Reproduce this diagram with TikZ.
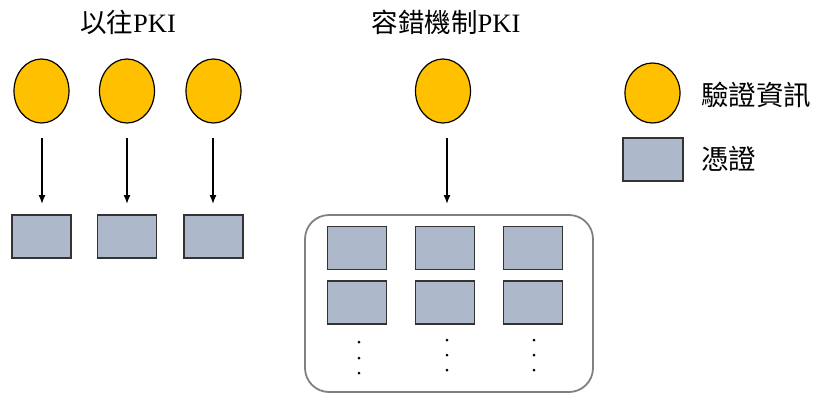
\documentclass[tikz,border=0pt]{standalone}
\usepackage{fontspec}
\setmainfont{Liberation Serif}
\newfontfamily\cjk{Noto Sans CJK TC}
\usetikzlibrary{arrows.meta,shapes.geometric}
\definecolor{infogold}{HTML}{FFC000}
\definecolor{certblue}{HTML}{ADB9CA}
\tikzset{
  info/.style={ellipse, draw=black, line width=1.2pt, fill=infogold,
    minimum width=55pt, minimum height=64pt, inner sep=0pt},
  cert/.style={rectangle, draw=black!80, line width=1.2pt, fill=certblue,
    minimum width=59pt, minimum height=43pt, inner sep=0pt},
  flow/.style={-{Latex[length=9pt,width=7pt]}, line width=1.4pt},
  title/.style={font=\fontsize{26.5}{30}\selectfont, inner sep=0pt},
  legendtext/.style={font=\cjk\fontsize{27.5}{30}\selectfont, anchor=west, inner sep=0pt},
  dot/.style={circle, fill=black, minimum size=3pt, inner sep=0pt}
}
\begin{document}
\begin{tikzpicture}[x=1pt, y=-1pt]
  \useasboundingbox (0,0) rectangle (817,394);

  % titles
  \node[title] (tleft) at (128,22) {{\cjk 以往}PKI};
  \node[title] (tright) at (446,22) {{\cjk 容錯機制}PKI};

  % conventional PKI: one certificate per item
  \foreach \i/\x in {1/41.5, 2/127, 3/213.5} {
    \node[info] (e\i) at (\x,91) {};
    \node[cert] (c\i) at (\x,236.5) {};
  }
  \foreach \i/\x in {1/42, 2/127, 3/213} {
    \coordinate (s\i) at (\x,138);
    \coordinate (t\i) at (\x,204);
    \draw[flow] (s\i) -- (t\i);
  }

  % fault-tolerant PKI: one item, many certificates
  \node[info] (er) at (443,91) {};
  \coordinate (sr) at (447,138);
  \coordinate (tr) at (447,204);
  \draw[flow] (sr) -- (tr);

  \draw[draw=black!50, line width=1.8pt, rounded corners=24pt]
    (305,215) rectangle (593,392);

  \foreach \j/\x in {1/357, 2/445, 3/533} {
    \node[cert] (ra\j) at (\x,248) {};
    \node[cert] (rb\j) at (\x,302.5) {};
  }
  \foreach \y in {342,358,373} \node[dot] at (359,\y) {};
  \foreach \y in {340,355,370} \node[dot] at (447,\y) {};
  \foreach \y in {340,355,370} \node[dot] at (534,\y) {};

  % legend
  \node[info, minimum height=60pt] (le) at (652.5,93) {};
  \node[legendtext] (lt1) at (701,95) {驗證資訊};
  \node[cert, minimum width=60pt] (lc) at (653,159.5) {};
  \node[legendtext] (lt2) at (701,159) {憑證};
\end{tikzpicture}
\end{document}
